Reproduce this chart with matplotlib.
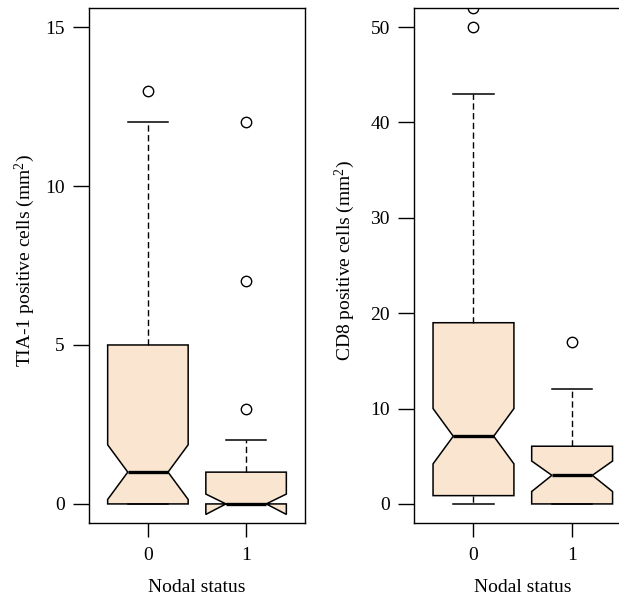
import matplotlib
matplotlib.use("Agg")
import matplotlib.pyplot as plt

plt.rcParams['font.family'] = ['Liberation Serif', 'DejaVu Serif']
plt.rcParams['mathtext.fontset'] = 'custom'
plt.rcParams['mathtext.rm'] = 'Liberation Serif'
plt.rcParams['mathtext.it'] = 'Liberation Serif:italic'

categories = ["0", "1"]

# Panel 1: TIA-1 positive cells
tia_q1 = [0, 0]
tia_med = [1, 0]
tia_q3 = [5, 1]
tia_whislo = [0, 0]
tia_whishi = [12, 2]
tia_cilo = [0.14, -0.33]
tia_cihi = [1.86, 0.31]
tia_fliers = [[13], [3, 7, 12]]

# Panel 2: CD8 positive cells
cd8_q1 = [0.87, 0]
cd8_med = [7.1, 3]
cd8_q3 = [19, 6.05]
cd8_whislo = [0, 0]
cd8_whishi = [43, 12.1]
cd8_cilo = [4.2, 1.3]
cd8_cihi = [10.0, 4.5]
cd8_fliers = [[50, 52], [17]]

fill = '#FAE6D0'

def stats(q1, med, q3, lo, hi, cilo, cihi, fl):
    out = []
    for i in range(len(q1)):
        out.append(dict(q1=q1[i], med=med[i], q3=q3[i], whislo=lo[i], whishi=hi[i],
                        cilo=cilo[i], cihi=cihi[i], fliers=fl[i], label=categories[i]))
    return out

fig = plt.figure(figsize=(6.19, 5.97), dpi=100)
W, H = 619, 597
ax1 = fig.add_axes([89 / W, (H - 523) / H, 216 / W, 515 / H])
ax2 = fig.add_axes([414.3 / W, (H - 523) / H, 217 / W, 515 / H])

panels = [
    (ax1, stats(tia_q1, tia_med, tia_q3, tia_whislo, tia_whishi, tia_cilo, tia_cihi, tia_fliers),
     (-0.6, 15.6), [0, 5, 10, 15], "TIA-1 positive cells (mm$^2$)", -0.296),
    (ax2, stats(cd8_q1, cd8_med, cd8_q3, cd8_whislo, cd8_whishi, cd8_cilo, cd8_cihi, cd8_fliers),
     (-2, 52), [0, 10, 20, 30, 40, 50], "CD8 positive cells (mm$^2$)", -0.319),
]

for ax, st, ylim, yt, ylab, ylx in panels:
    ax.bxp(st, positions=[1, 2], widths=0.82, shownotches=True, patch_artist=True,
           boxprops=dict(facecolor=fill, edgecolor='black', linewidth=1.1),
           medianprops=dict(color='black', linewidth=2.4),
           whiskerprops=dict(color='black', linestyle=(0, (4.5, 2.5)), linewidth=1.0),
           capprops=dict(color='black', linewidth=1.1),
           flierprops=dict(marker='o', markerfacecolor='none', markeredgecolor='black',
                           markersize=7.5, markeredgewidth=1.0))
    ax.set_xlim(0.4, 2.6)
    ax.set_ylim(*ylim)
    ax.set_yticks(yt)
    ax.set_xticks([1, 2])
    ax.set_xticklabels(categories)
    ax.tick_params(axis='y', length=11.5, width=1.0, pad=6, labelsize=14)
    ax.tick_params(axis='x', length=10, width=1.0, pad=7, labelsize=14)
    for s in ax.spines.values():
        s.set_linewidth(1.0)
    ax.set_xlabel("Nodal status", fontsize=14, va='center')
    ax.xaxis.set_label_coords(0.5, -0.125)
    ax.set_ylabel(ylab, fontsize=14, va='center')
    ax.yaxis.set_label_coords(ylx, 0.51)

fig.savefig("out.png", dpi=100)
